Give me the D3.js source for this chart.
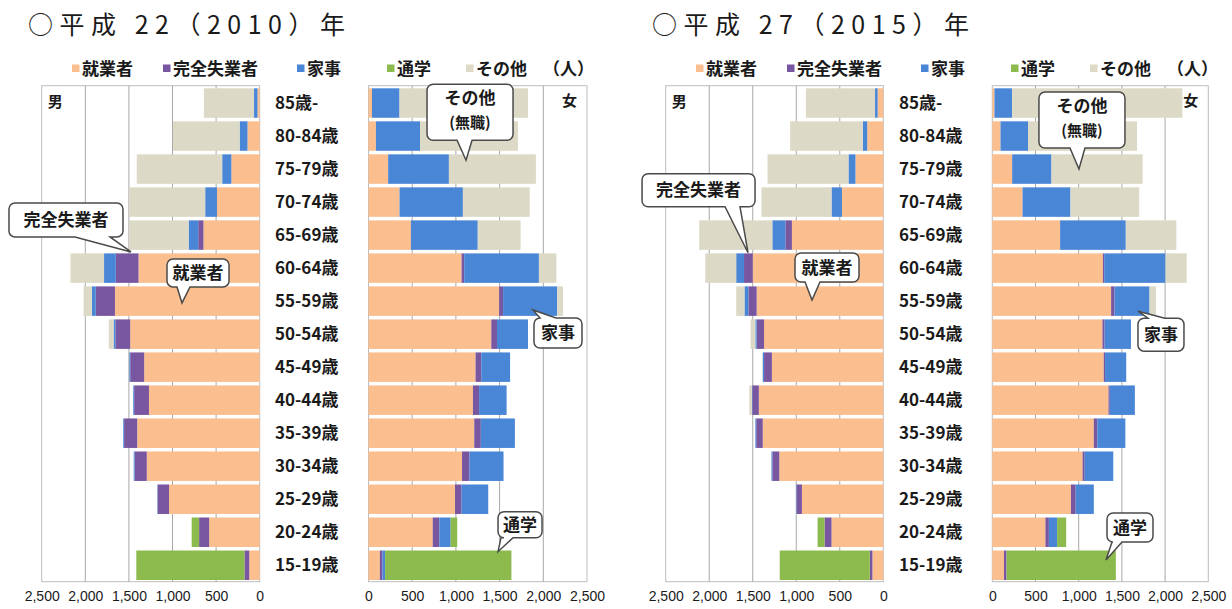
<!DOCTYPE html>
<html>
<head>
<meta charset="utf-8">
<script src="https://cdn.jsdelivr.net/npm/d3@7"></script>
<style>
  body { margin: 0; background: #fff; }
  svg { display: block; }
  text { font-family: "Noto Sans CJK JP", "Noto Sans", sans-serif; fill: #1a1a1a; }
</style>
</head>
<body>
<svg id="chart" width="1232" height="609"></svg>
<script>
// Age groups, top to bottom
const ages = ["85歳-", "80-84歳", "75-79歳", "70-74歳", "65-69歳", "60-64歳", "55-59歳",
  "50-54歳", "45-49歳", "40-44歳", "35-39歳", "30-34歳", "25-29歳", "20-24歳", "15-19歳"];

// Activity status, stacked outward from the centre
const seriesKeys = ["就業者", "完全失業者", "家事", "通学", "その他"];
const seriesColors = ["#FBBE8E", "#7856A0", "#4A86D6", "#8DBA4C", "#DCD9C6"];
const xTicks = [0, 500, 1000, 1500, 2000, 2500];

// 平成22（2010）年 男
const male2010Employed   = [25, 140, 325, 490, 645, 1390, 1660, 1485, 1325, 1270, 1405, 1295, 1040, 580, 120];
const male2010Unemployed = [0, 0, 0, 0, 60, 260, 220, 170, 160, 170, 150, 140, 130, 115, 55];
const male2010Housework  = [40, 90, 105, 135, 110, 135, 45, 20, 10, 10, 10, 10, 5, 0, 0];
const male2010School     = [0, 0, 0, 0, 0, 0, 0, 0, 0, 0, 0, 0, 0, 85, 1240];
const male2010Other      = [575, 765, 980, 870, 680, 385, 95, 55, 0, 0, 0, 0, 0, 0, 0];

// 平成22（2010）年 女
const female2010Employed   = [40, 85, 225, 355, 485, 1065, 1495, 1405, 1225, 1195, 1210, 1070, 990, 735, 130];
const female2010Unemployed = [0, 0, 0, 0, 0, 30, 45, 65, 65, 70, 75, 85, 75, 75, 30];
const female2010Housework  = [315, 505, 695, 725, 765, 855, 620, 355, 330, 315, 390, 390, 305, 130, 30];
const female2010School     = [0, 0, 0, 0, 0, 0, 0, 0, 0, 0, 0, 0, 0, 75, 1445];
const female2010Other      = [1470, 1120, 995, 765, 490, 200, 65, 0, 0, 0, 0, 0, 0, 0, 0];

// 平成27（2015）年 男
const male2015Employed   = [65, 185, 320, 475, 1050, 1500, 1455, 1370, 1280, 1430, 1385, 1195, 935, 595, 125];
const male2015Unemployed = [0, 0, 0, 0, 75, 100, 95, 85, 90, 75, 75, 80, 60, 80, 30];
const male2015Housework  = [30, 50, 80, 120, 150, 90, 45, 15, 15, 5, 10, 10, 5, 0, 0];
const male2015School     = [0, 0, 0, 0, 0, 0, 0, 0, 0, 0, 0, 0, 0, 80, 1035];
const male2015Other      = [795, 835, 930, 805, 840, 355, 95, 55, 5, 30, 0, 0, 0, 0, 0];

// 平成27（2015）年 女
const female2015Employed   = [25, 95, 230, 350, 785, 1280, 1375, 1275, 1290, 1345, 1175, 1045, 910, 615, 135];
const female2015Unemployed = [0, 0, 0, 0, 0, 15, 40, 25, 15, 15, 40, 25, 55, 40, 30];
const female2015Housework  = [205, 320, 455, 555, 760, 710, 405, 305, 245, 290, 325, 330, 210, 95, 0];
const female2015School     = [0, 0, 0, 0, 0, 0, 0, 0, 0, 0, 0, 0, 0, 105, 1265];
const female2015Other      = [1970, 1260, 1055, 795, 585, 245, 75, 0, 0, 0, 0, 0, 0, 0, 0];

const panels = [
  {
    title: "○平成 22（2010）年", ox: 0,
    male: [male2010Employed, male2010Unemployed, male2010Housework, male2010School, male2010Other],
    female: [female2010Employed, female2010Unemployed, female2010Housework, female2010School, female2010Other],
    maleRange: [259.7, 41.7], femaleRange: [368.5, 587],
    callouts: [
      { lines: ["完全失業者"], sex: "male", age: "60-64歳", value: 1476, frac: -0.05, dx: -122, dy: -49, w: 114, h: 34, side: "bottom", ta: 66, tb: 101 },
      { lines: ["就業者"], sex: "male", age: "55-59歳", value: 891, frac: 0.56, dx: -15, dy: -44, w: 62, h: 28, side: "bottom", ta: 10, tb: 23 },
      { lines: ["その他", "(無職)"], sex: "female", age: "75-79歳", value: 1116, frac: 0.2, dx: -39, dy: -76, w: 86, h: 56, side: "bottom", ta: 30, tb: 45 },
      { lines: ["家事"], sex: "female", age: "55-59歳", value: 1882, frac: 0.8, dx: 1, dy: 8, w: 48, h: 30, side: "top", ta: 6, tb: 22 },
      { lines: ["通学"], sex: "female", age: "15-19歳", value: 1482, frac: 0.04, dx: 0, dy: -40, w: 44, h: 26, side: "bottom", ta: 3, tb: 15 }
    ]
  },
  {
    title: "○平成 27（2015）年", ox: 624,
    male: [male2015Employed, male2015Unemployed, male2015Housework, male2015School, male2015Other],
    female: [female2015Employed, female2015Unemployed, female2015Housework, female2015School, female2015Other],
    maleRange: [883.3, 665.7], femaleRange: [992.3, 1208.3],
    callouts: [
      { lines: ["完全失業者"], sex: "male", age: "60-64歳", value: 1554, frac: -0.02, dx: -106, dy: -79, w: 113, h: 33, side: "bottom", ta: 83, tb: 98 },
      { lines: ["就業者"], sex: "male", age: "55-59歳", value: 819, frac: 0.46, dx: -17, dy: -47, w: 64, h: 29, side: "bottom", ta: 10, tb: 25 },
      { lines: ["その他", "(無職)"], sex: "female", age: "75-79歳", value: 1003, frac: 0.5, dx: -40, dy: -77, w: 86, h: 56, side: "bottom", ta: 31, tb: 46 },
      { lines: ["家事"], sex: "female", age: "55-59歳", value: 1686, frac: 0.84, dx: 0, dy: 7, w: 46, h: 33, side: "top", ta: 10, tb: 27 },
      { lines: ["通学"], sex: "female", age: "15-19歳", value: 1316, frac: 0.32, dx: 1, dy: -47, w: 46, h: 29, side: "bottom", ta: 5, tb: 15 }
    ]
  }
];

const svg = d3.select("#chart");
const plotTop = 85.7, plotBottom = 581.7;
const y = d3.scaleBand().domain(ages).range([88.3, 580]).paddingInner(0.107).paddingOuter(0);
const color = d3.scaleOrdinal().domain(seriesKeys).range(seriesColors);

function stackRows(arrays) {
  const rows = ages.map((a, i) => {
    const r = { age: a };
    seriesKeys.forEach((k, j) => { r[k] = arrays[j][i]; });
    return r;
  });
  return d3.stack().keys(seriesKeys)(rows);
}

function drawSide(g, arrays, range) {
  const x = d3.scaleLinear().domain([0, 2500]).range(range);
  const left = Math.min(range[0], range[1]), right = Math.max(range[0], range[1]);

  // plot frame and vertical grid
  g.append("rect").attr("x", left).attr("y", plotTop)
    .attr("width", right - left).attr("height", plotBottom - plotTop)
    .attr("fill", "none").attr("stroke", "#BDBDBD").attr("stroke-width", 1);
  g.selectAll(".grid").data(xTicks.slice(1, -1)).join("line")
    .attr("x1", d => x(d)).attr("x2", d => x(d))
    .attr("y1", plotTop).attr("y2", plotBottom)
    .attr("stroke", "#A8A8A8").attr("stroke-width", 1);

  // stacked bars
  const layers = stackRows(arrays);
  g.selectAll(".layer").data(layers).join("g")
    .attr("fill", d => color(d.key))
    .selectAll("rect").data(d => d).join("rect")
    .attr("x", d => Math.min(x(d[0]), x(d[1])))
    .attr("width", d => Math.abs(x(d[1]) - x(d[0])))
    .attr("y", d => y(d.data.age))
    .attr("height", y.bandwidth());

  // value axis
  const axis = d3.axisBottom(x).tickValues(xTicks).tickFormat(d3.format(",")).tickSize(0).tickPadding(0);
  const ag = g.append("g").attr("transform", `translate(0,${plotBottom + 9})`).call(axis);
  ag.select(".domain").remove();
  ag.selectAll("text").attr("font-size", 14).attr("fill", "#222")
    .style("font-family", "'Liberation Sans', Arial, sans-serif");
  return x;
}

function calloutPath(bx, by, w, h, r, c, tx, ty) {
  const a = bx + c.ta, b = bx + c.tb;
  if (c.side === "bottom") {
    return `M${bx + r},${by} H${bx + w - r} A${r},${r} 0 0 1 ${bx + w},${by + r} V${by + h - r}` +
      ` A${r},${r} 0 0 1 ${bx + w - r},${by + h} H${b} L${tx},${ty} L${a},${by + h} H${bx + r}` +
      ` A${r},${r} 0 0 1 ${bx},${by + h - r} V${by + r} A${r},${r} 0 0 1 ${bx + r},${by} Z`;
  }
  return `M${bx + r},${by} H${a} L${tx},${ty} L${b},${by} H${bx + w - r} A${r},${r} 0 0 1 ${bx + w},${by + r} V${by + h - r}` +
    ` A${r},${r} 0 0 1 ${bx + w - r},${by + h} H${bx + r}` +
    ` A${r},${r} 0 0 1 ${bx},${by + h - r} V${by + r} A${r},${r} 0 0 1 ${bx + r},${by} Z`;
}

panels.forEach(p => {
  const g = svg.append("g");
  const ox = p.ox;

  // title
  g.append("text").attr("x", 28 + ox).attr("y", 34)
    .attr("font-size", 25).attr("textLength", 317).attr("lengthAdjust", "spacing")
    .text(p.title);

  const xm = drawSide(g.append("g"), p.male, p.maleRange);
  const xf = drawSide(g.append("g"), p.female, p.femaleRange);

  // legend
  const legendItems = [
    { key: "就業者", x: 72 }, { key: "完全失業者", x: 163 }, { key: "家事", x: 297 },
    { key: "通学", x: 387 }, { key: "その他", x: 466 }
  ];
  const lg = g.append("g");
  legendItems.forEach(it => {
    lg.append("rect").attr("x", it.x + ox).attr("y", 64.5).attr("width", 7.5).attr("height", 7.5)
      .attr("fill", color(it.key));
    lg.append("text").attr("x", it.x + ox + 10).attr("y", 74.5)
      .attr("font-size", 17).attr("font-weight", "bold").text(it.key);
  });
  lg.append("text").attr("x", 543 + ox).attr("y", 74.5)
    .attr("font-size", 17).attr("font-weight", "bold").text("（人）");

  // age labels
  g.selectAll(".age").data(ages).join("text")
    .attr("x", 275 + ox).attr("y", d => y(d) + y.bandwidth() / 2).attr("dy", "0.36em")
    .attr("font-size", 17).attr("font-weight", "bold").text(d => d);

  // sex labels
  g.append("text").attr("x", p.maleRange[1] + 6).attr("y", 107)
    .attr("font-size", 15).attr("font-weight", "bold").text("男");
  g.append("text").attr("x", p.femaleRange[1] - 25).attr("y", 106)
    .attr("font-size", 15).attr("font-weight", "bold").text("女");

  // callouts
  p.callouts.forEach(c => {
    const x = c.sex === "male" ? xm : xf;
    const tx = x(c.value);
    const ty = y(c.age) + c.frac * y.bandwidth();
    const bx = tx + c.dx, by = ty + c.dy;
    g.append("path").attr("d", calloutPath(bx, by, c.w, c.h, 6, c, tx, ty))
      .attr("fill", "#fff").attr("stroke", "#4a4a4a").attr("stroke-width", 1.5);
    if (c.lines.length === 1) {
      g.append("text").attr("x", bx + c.w / 2).attr("y", by + c.h / 2).attr("dy", "0.36em")
        .attr("text-anchor", "middle").attr("font-size", 17).attr("font-weight", "bold").text(c.lines[0]);
    } else {
      g.append("text").attr("x", bx + c.w / 2).attr("y", by + 20)
        .attr("text-anchor", "middle").attr("font-size", 17).attr("font-weight", "bold").text(c.lines[0]);
      g.append("text").attr("x", bx + c.w / 2).attr("y", by + 44)
        .attr("text-anchor", "middle").attr("font-size", 15).attr("font-weight", "bold").text(c.lines[1]);
    }
  });
});
</script>
</body>
</html>
